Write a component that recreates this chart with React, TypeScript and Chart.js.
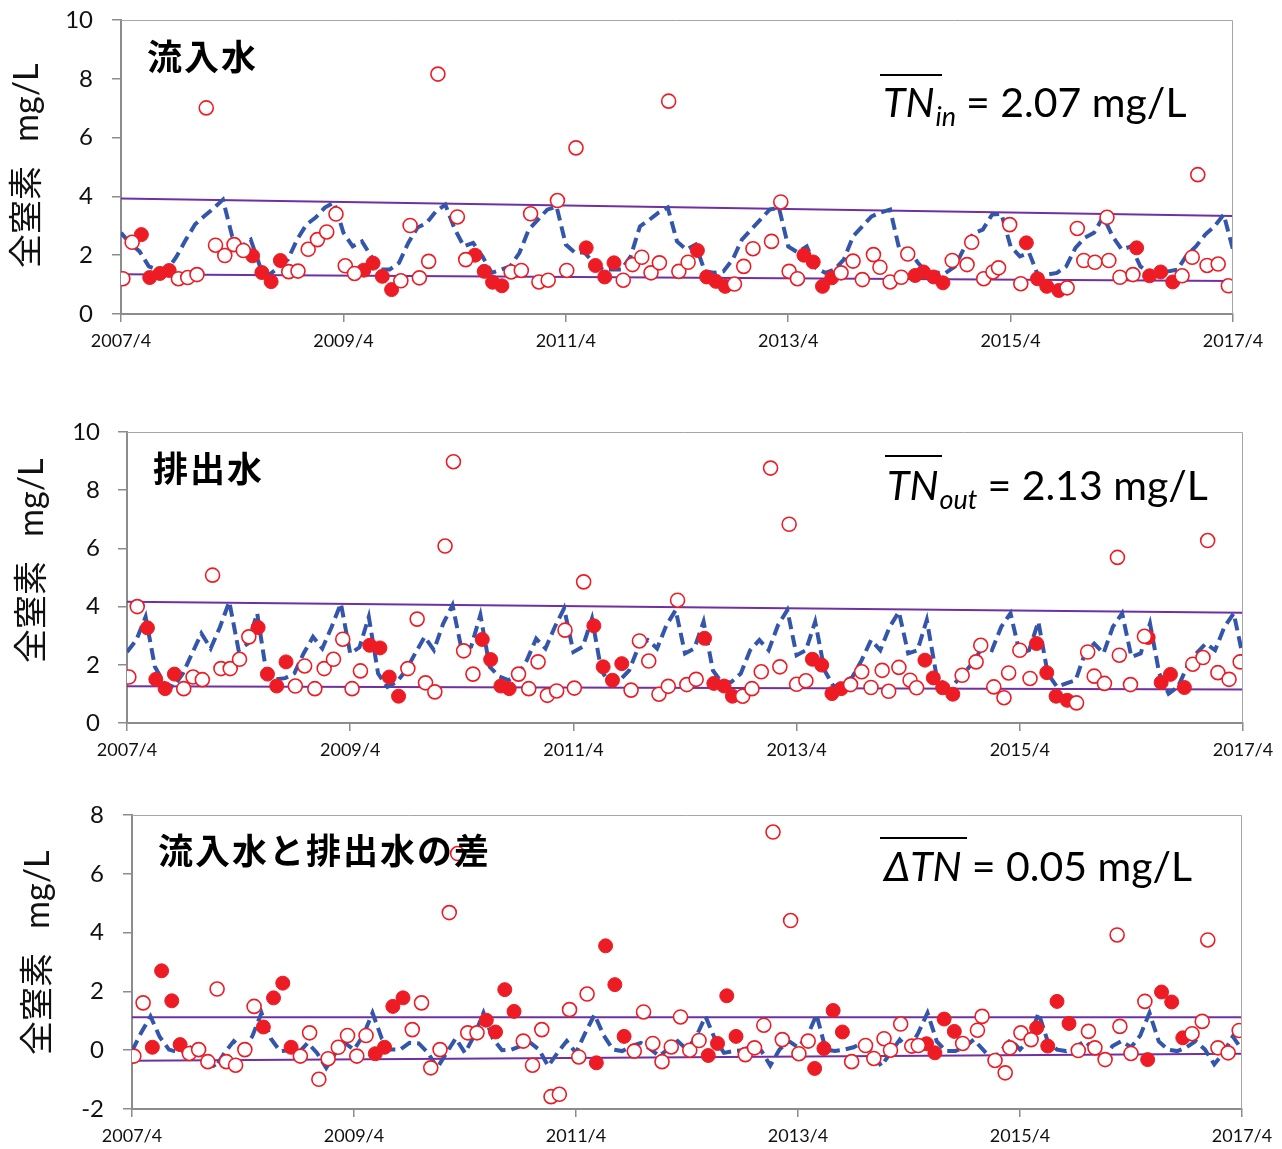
import React, { useEffect, useRef } from 'react';
import { Chart, registerables } from 'chart.js';

Chart.register(...registerables);

const FONT = 'Lato, "Noto Sans CJK JP", "DejaVu Sans", sans-serif';
const CJK = '"Noto Sans CJK JP", sans-serif';
const RED = '#ED1C24';
const BLUE = '#3355AA';
const PURPLE = '#7030A0';
const AXIS = '#8C8C8C';
const FRAME = '#A6A6A6';

// x axis: months since 2007/4
const xTickLabels = ['2007/4', '2009/4', '2011/4', '2013/4', '2015/4', '2017/4'];
const yTitleParts = ['全窒素', 'mg/L'];

// ---------- panel 1: inflow ----------
const inflowOpen: [number, number][] = [
  [0.2, 1.2], [1.2, 2.44], [6.2, 1.2], [7.2, 1.24], [8.2, 1.34], [9.2, 7.01], [10.2, 2.34], [11.2, 1.99],
  [12.2, 2.36], [13.2, 2.16], [18.1, 1.44], [19.1, 1.46], [20.2, 2.2], [21.2, 2.53], [22.2, 2.79], [23.2, 3.4],
  [24.2, 1.64], [25.2, 1.38], [30.2, 1.13], [31.2, 3.01], [32.2, 1.23], [33.2, 1.79], [34.2, 8.16], [36.3, 3.3],
  [37.2, 1.85], [42.1, 1.43], [43.2, 1.48], [44.2, 3.41], [45.1, 1.09], [46.1, 1.15], [47.1, 3.86], [48.1, 1.48],
  [49.1, 5.65], [54.2, 1.15], [55.2, 1.68], [56.2, 1.93], [57.2, 1.4], [58.1, 1.74], [59.1, 7.24], [60.2, 1.45],
  [61.2, 1.76], [66.2, 1.02], [67.2, 1.62], [68.2, 2.22], [70.2, 2.47], [71.2, 3.81], [72.1, 1.45], [73.0, 1.2],
  [77.7, 1.4], [79.0, 1.8], [80.0, 1.17], [81.2, 2.02], [81.9, 1.59], [83.0, 1.09], [84.2, 1.25], [84.9, 2.04],
  [89.7, 1.82], [91.3, 1.68], [91.8, 2.44], [93.1, 1.2], [94.1, 1.43], [94.7, 1.57], [95.9, 3.04], [97.1, 1.03],
  [102.1, 0.89], [103.2, 2.91], [103.9, 1.82], [105.1, 1.76], [106.4, 3.29], [106.6, 1.82], [107.8, 1.25],
  [109.2, 1.34], [114.5, 1.3], [115.6, 1.93], [116.2, 4.74], [117.2, 1.65], [118.4, 1.7], [119.5, 0.96],
];
const inflowFilled: [number, number][] = [
  [2.2, 2.7], [3.1, 1.24], [4.2, 1.38], [5.2, 1.48], [14.2, 1.98], [15.2, 1.41], [16.2, 1.1], [17.2, 1.82],
  [26.2, 1.49], [27.2, 1.73], [28.2, 1.28], [29.2, 0.83], [38.2, 2.0], [39.2, 1.45], [40.1, 1.08], [41.1, 0.96],
  [50.2, 2.25], [51.2, 1.65], [52.2, 1.26], [53.2, 1.74], [62.2, 2.16], [63.2, 1.26], [64.2, 1.11], [65.2, 0.94],
  [73.7, 2.0], [74.7, 1.77], [75.7, 0.94], [76.7, 1.23], [85.7, 1.31], [86.6, 1.43], [87.7, 1.26], [88.7, 1.06],
  [97.7, 2.42], [98.9, 1.2], [99.9, 0.94], [101.2, 0.8], [109.6, 2.25], [111.0, 1.3], [112.2, 1.43], [113.5, 1.09],
];
const inflowModel: number[] = [
  2.76, 2.4, 2.13, 1.62, 1.5, 1.5, 1.96, 2.53, 3.05, 3.33, 3.6, 3.89,
  2.64, 2.3, 2.53, 1.62, 1.34, 1.58, 1.85, 2.53, 3.04, 3.28, 3.62, 3.79,
  2.77, 2.3, 2.47, 1.96, 1.51, 1.51, 1.74, 2.42, 2.94, 3.1, 3.5, 3.72,
  2.9, 2.3, 2.42, 1.96, 1.4, 1.51, 1.62, 2.08, 2.87, 3.21, 3.55, 3.66,
  2.36, 2.08, 2.1, 1.74, 1.51, 1.51, 1.51, 1.96, 2.98, 3.2, 3.45, 3.62,
  2.47, 2.19, 2.36, 1.45, 1.4, 1.45, 1.85, 2.53, 2.87, 3.21, 3.55, 3.62,
  2.3, 2.1, 2.3, 1.57, 1.4, 1.51, 1.85, 2.64, 2.98, 3.32, 3.45, 3.55,
  2.19, 2.19, 1.74, 1.4, 1.4, 1.4, 1.62, 2.25, 2.75, 2.87, 3.38, 3.41,
  2.3, 1.96, 2.08, 1.28, 1.34, 1.4, 1.62, 2.25, 2.59, 2.76, 3.32, 2.64,
  2.19, 2.3, 1.62, 1.4, 1.4, 1.45, 1.51, 2.0, 2.3, 2.7, 2.98, 3.38, 2.19,
];
const inflowUpper = [3.93, 3.33];
const inflowLower = [1.35, 1.12];

// ---------- panel 2: outflow ----------
const outflowOpen: [number, number][] = [
  [0.2, 1.58], [1.1, 4.0], [6.1, 1.18], [7.1, 1.58], [8.1, 1.49], [9.2, 5.08], [10.1, 1.87], [11.1, 1.87],
  [12.1, 2.19], [13.1, 2.96], [18.1, 1.27], [19.1, 1.96], [20.2, 1.18], [21.2, 1.87], [22.2, 2.19], [23.2, 2.88],
  [24.2, 1.18], [25.1, 1.79], [30.2, 1.87], [31.2, 3.57], [32.1, 1.38], [33.1, 1.07], [34.2, 6.08], [35.1, 8.98],
  [36.2, 2.48], [37.2, 1.68], [42.1, 1.68], [43.2, 1.18], [44.2, 2.1], [45.2, 0.95], [46.2, 1.1], [47.1, 3.19],
  [48.1, 1.2], [49.1, 4.85], [54.2, 1.13], [55.1, 2.82], [56.1, 2.13], [57.2, 0.99], [58.2, 1.26], [59.2, 4.22],
  [60.2, 1.32], [61.2, 1.5], [66.2, 0.92], [67.2, 1.18], [68.2, 1.76], [69.2, 8.76], [70.2, 1.93], [71.2, 6.83],
  [72.0, 1.33], [73.0, 1.45], [77.8, 1.32], [79.0, 1.76], [80.0, 1.22], [81.2, 1.81], [81.9, 1.09], [83.0, 1.91],
  [84.2, 1.47], [84.9, 1.21], [89.8, 1.64], [91.3, 2.1], [91.8, 2.67], [93.2, 1.24], [94.3, 0.87], [94.8, 1.72],
  [96.0, 2.5], [97.1, 1.53], [102.1, 0.69], [103.3, 2.44], [104.0, 1.61], [105.1, 1.36], [106.5, 5.69],
  [106.7, 2.33], [107.9, 1.32], [109.4, 2.98], [114.6, 2.02], [115.7, 2.25], [116.2, 6.27], [117.3, 1.73],
  [118.5, 1.5], [119.7, 2.1],
];
const outflowFilled: [number, number][] = [
  [2.2, 3.27], [3.1, 1.5], [4.1, 1.18], [5.1, 1.68], [14.1, 3.28], [15.1, 1.68], [16.1, 1.27], [17.1, 2.1],
  [26.1, 2.67], [27.2, 2.58], [28.2, 1.58], [29.2, 0.92], [38.2, 2.87], [39.1, 2.18], [40.2, 1.27], [41.1, 1.18],
  [50.2, 3.34], [51.2, 1.93], [52.2, 1.47], [53.2, 2.04], [62.1, 2.91], [63.1, 1.36], [64.2, 1.27], [65.1, 0.92],
  [73.7, 2.19], [74.7, 1.99], [75.8, 1.01], [76.8, 1.18], [85.8, 2.16], [86.7, 1.55], [87.7, 1.21], [88.8, 0.99],
  [97.8, 2.73], [98.9, 1.73], [99.9, 0.92], [101.1, 0.78], [109.8, 2.94], [111.2, 1.39], [112.2, 1.67], [113.7, 1.22],
];
const outflowModel: number[] = [
  2.44, 2.85, 3.65, 1.93, 1.36, 1.24, 1.7, 2.39, 3.08, 2.56, 3.3, 4.17,
  2.5, 2.73, 3.77, 1.7, 1.5, 1.54, 1.71, 2.4, 2.96, 2.56, 3.3, 4.11,
  2.39, 2.6, 3.65, 1.7, 1.24, 1.41, 1.81, 2.4, 2.96, 2.5, 3.42, 4.05,
  2.5, 2.62, 3.71, 1.93, 1.6, 1.47, 1.64, 2.16, 2.9, 2.56, 3.3, 3.94,
  2.44, 2.62, 3.59, 1.81, 1.3, 1.47, 1.81, 2.62, 2.85, 2.56, 3.36, 3.88,
  2.39, 2.56, 3.48, 1.81, 1.36, 1.41, 1.7, 2.5, 2.85, 2.5, 3.36, 3.88,
  2.33, 2.5, 3.48, 1.81, 1.24, 1.41, 1.58, 2.16, 2.85, 2.5, 3.3, 3.82,
  2.39, 2.5, 3.54, 1.7, 1.24, 1.36, 1.7, 2.1, 2.62, 2.5, 3.3, 3.77,
  2.39, 2.5, 3.48, 1.7, 1.24, 1.36, 1.47, 2.39, 2.73, 2.39, 3.3, 3.77,
  2.27, 2.39, 3.42, 1.7, 1.01, 1.24, 1.93, 2.4, 2.73, 2.5, 3.3, 3.77, 2.27,
];
const outflowUpper = [4.17, 3.79];
const outflowLower = [1.26, 1.15];

// ---------- panel 3: difference ----------
const diffOpen: [number, number][] = [
  [0.2, -0.2], [1.2, 1.61], [6.2, -0.11], [7.2, 0.02], [8.2, -0.39], [9.2, 2.08], [10.2, -0.39], [11.2, -0.51],
  [12.2, 0.02], [13.2, 1.49], [18.2, -0.2], [19.2, 0.59], [20.2, -0.99], [21.2, -0.29], [22.3, 0.1], [23.3, 0.5],
  [24.3, -0.2], [25.3, 0.5], [30.3, 0.7], [31.3, 1.61], [32.3, -0.6], [33.3, 0.02], [34.3, 4.68], [35.2, 6.69],
  [36.3, 0.59], [37.3, 0.59], [42.3, 0.31], [43.3, -0.51], [44.3, 0.7], [45.3, -1.58], [46.2, -1.5], [47.3, 1.38],
  [48.3, -0.23], [49.2, 1.91], [54.3, -0.03], [55.3, 1.3], [56.3, 0.23], [57.3, -0.39], [58.3, 0.11], [59.3, 1.13],
  [60.3, 0.0], [61.3, 0.33], [66.3, -0.15], [67.3, 0.08], [68.3, 0.85], [69.3, 7.42], [70.3, 0.36], [71.2, 4.41],
  [72.1, -0.12], [73.1, 0.31], [77.8, -0.39], [79.3, 0.16], [80.2, -0.28], [81.3, 0.39], [82.0, 0.0], [83.1, 0.89],
  [84.3, 0.14], [85.0, 0.16], [89.8, 0.23], [91.4, 0.68], [91.9, 1.15], [93.3, -0.35], [94.4, -0.77], [94.9, 0.08],
  [96.1, 0.59], [97.2, 0.36], [102.3, -0.01], [103.4, 0.64], [104.1, 0.08], [105.2, -0.32], [106.5, 3.92],
  [106.8, 0.81], [108.0, -0.11], [109.5, 1.66], [114.6, 0.56], [115.7, 0.98], [116.3, 3.75], [117.4, 0.08],
  [118.5, -0.09], [119.7, 0.67],
];
const diffFilled: [number, number][] = [
  [2.2, 0.1], [3.2, 2.7], [4.3, 1.68], [5.2, 0.19], [14.2, 0.79], [15.3, 1.78], [16.3, 2.28], [17.2, 0.1],
  [26.3, -0.12], [27.3, 0.1], [28.2, 1.49], [29.3, 1.78], [38.3, 1.02], [39.3, 0.62], [40.3, 2.06], [41.3, 1.32],
  [50.2, -0.43], [51.2, 3.55], [52.2, 2.23], [53.2, 0.47], [62.3, -0.18], [63.3, 0.23], [64.3, 1.85], [65.3, 0.47],
  [73.8, -0.62], [74.8, 0.06], [75.8, 1.35], [76.8, 0.62], [85.9, 0.22], [86.8, -0.09], [87.8, 1.06], [88.9, 0.64],
  [97.8, 0.76], [99.0, 0.14], [100.0, 1.66], [101.3, 0.91], [109.8, -0.32], [111.3, 1.98], [112.4, 1.64], [113.6, 0.42],
];
const diffModel: number[] = [
  -0.03, 0.6, 1.15, 0.45, 0.02, -0.07, 0.02, 0.23, -0.09, -0.6, -0.09, 0.31,
  0.02, 0.47, 1.27, 0.4, -0.03, 0.0, -0.09, 0.25, -0.09, -0.6, -0.09, 0.25,
  0.02, 0.5, 1.27, 0.4, 0.02, 0.02, 0.25, 0.23, -0.09, -0.6, -0.09, 0.4,
  -0.09, 0.5, 1.27, 0.4, 0.0, 0.02, 0.14, 0.27, 0.02, -0.54, -0.09, 0.31,
  -0.09, 0.59, 1.21, 0.5, 0.02, -0.03, 0.14, 0.25, 0.05, -0.2, 0.05, 0.31,
  0.02, 0.47, 1.15, 0.4, -0.09, -0.03, 0.0, 0.14, 0.0, -0.52, 0.02, 0.31,
  0.1, 0.47, 1.21, 0.02, -0.03, 0.02, 0.1, 0.25, -0.03, -0.54, -0.09, 0.36,
  0.02, 0.59, 1.27, 0.3, -0.03, -0.03, 0.1, 0.36, 0.02, -0.32, 0.0, 0.36,
  0.02, 0.36, 1.27, 0.3, 0.02, -0.03, 0.1, 0.31, 0.02, -0.3, 0.14, 0.31,
  0.1, 0.5, 1.27, 0.3, 0.02, -0.03, 0.1, 0.31, 0.02, -0.48, -0.09, 0.47, 0.02,
];
const diffUpper = [1.12, 1.12];
const diffLower = [-0.36, -0.12];

// ---------- annotation plugin (frame, axis title, panel label, mean formula) ----------
const panelTextPlugin = {
  id: 'panelText',
  afterDatasetsDraw(chart: any, _args: any, o: any) {
    if (!o || !o.label) return;
    const ctx = chart.ctx as CanvasRenderingContext2D;
    const a = chart.chartArea;
    ctx.save();
    // plot frame (top and right)
    ctx.strokeStyle = FRAME;
    ctx.lineWidth = 1;
    ctx.beginPath();
    ctx.moveTo(a.left, a.top + 0.5);
    ctx.lineTo(a.right - 0.5, a.top + 0.5);
    ctx.lineTo(a.right - 0.5, a.bottom);
    ctx.stroke();

    // y-axis title
    ctx.save();
    ctx.translate(o.titleX, o.titleY);
    ctx.rotate(-Math.PI / 2);
    ctx.textAlign = 'left';
    ctx.textBaseline = 'middle';
    ctx.fillStyle = '#111';
    ctx.font = `34px ${FONT}`;
    ctx.fillText(o.title1, 0, 0);
    const tw = ctx.measureText(o.title1).width;
    ctx.fillText(o.title2, tw + o.titleGap, 0);
    ctx.restore();

    // panel label
    ctx.fillStyle = '#000';
    ctx.textAlign = 'left';
    ctx.textBaseline = 'middle';
    ctx.font = `bold ${o.labelSize}px ${CJK}`;
    (ctx as any).letterSpacing = `${o.labelSpacing}px`;
    ctx.fillText(o.label, o.labelX, o.labelY);
    (ctx as any).letterSpacing = '0px';

    // mean formula
    ctx.textBaseline = 'alphabetic';
    ctx.font = `italic ${o.fSize}px ${FONT}`;
    ctx.fillText(o.main, o.fx, o.fy);
    let x = o.fx + ctx.measureText(o.main).width;
    if (o.sub) {
      ctx.font = `italic ${o.subSize}px ${FONT}`;
      ctx.fillText(o.sub, x + 1, o.fy + o.subDy);
      x += 1 + ctx.measureText(o.sub).width;
    }
    x += o.gap;
    ctx.font = `${o.fSize}px ${FONT}`;
    ctx.fillText(o.rest, x, o.fy);
    ctx.strokeStyle = '#000';
    ctx.lineWidth = 2;
    ctx.beginPath();
    ctx.moveTo(o.ox1, o.oy);
    ctx.lineTo(o.ox2, o.oy);
    ctx.stroke();
    ctx.restore();
  },
};

type PanelDef = {
  top: number; height: number;
  areaTop: number; areaBottom: number; areaLeft: number; areaRight: number;
  yMin: number; yMax: number; tickPad: number;
  open: [number, number][]; filled: [number, number][]; model: number[];
  upper: number[]; lower: number[];
  text: any;
};

const panels: PanelDef[] = [
  {
    top: -15, height: 385, areaTop: 20, areaBottom: 314, areaLeft: 121, areaRight: 1233,
    yMin: 0, yMax: 10, tickPad: 19,
    open: inflowOpen, filled: inflowFilled, model: inflowModel, upper: inflowUpper, lower: inflowLower,
    text: { label: '流入水', labelX: 147, labelY: 57, main: 'TN', sub: 'in', fx: 883, fy: 117, rest: '= 2.07 mg/L', ox1: 880, ox2: 942, oy: 75, titleX: 27, titleY: 268 },
  },
  {
    top: 392, height: 388, areaTop: 432, areaBottom: 723, areaLeft: 127, areaRight: 1243,
    yMin: 0, yMax: 10, tickPad: 18,
    open: outflowOpen, filled: outflowFilled, model: outflowModel, upper: outflowUpper, lower: outflowLower,
    text: { label: '排出水', labelX: 153, labelY: 469, main: 'TN', sub: 'out', fx: 887, fy: 500, rest: '= 2.13 mg/L', ox1: 885, ox2: 942, oy: 456, titleX: 32, titleY: 663 },
  },
  {
    top: 780, height: 369, areaTop: 815, areaBottom: 1109, areaLeft: 132, areaRight: 1242,
    yMin: -2, yMax: 8, tickPad: 19,
    open: diffOpen, filled: diffFilled, model: diffModel, upper: diffUpper, lower: diffLower,
    text: { label: '流入水と排出水の差', labelX: 158, labelY: 851, main: 'ΔTN', sub: '', fx: 884, fy: 881, rest: '= 0.05 mg/L', ox1: 880, ox2: 967, oy: 838, titleX: 38, titleY: 1055 },
  },
];

function buildConfig(p: PanelDef): any {
  const pts = (arr: [number, number][]) => arr.map(([x, y]) => ({ x, y }));
  const t = p.text;
  return {
    type: 'scatter',
    data: {
      datasets: [
        { data: pts(p.open), backgroundColor: '#FFFFFF', borderColor: RED, borderWidth: 1.6, pointRadius: 7, pointHoverRadius: 7, showLine: false, order: 0 },
        { data: pts(p.filled), backgroundColor: RED, borderColor: RED, borderWidth: 1, pointRadius: 7, pointHoverRadius: 7, showLine: false, order: 1 },
        { type: 'line', data: p.model.map((y, i) => ({ x: i, y })), borderColor: BLUE, borderWidth: 4, borderDash: [12, 6], pointRadius: 0, fill: false, tension: 0, order: 2 },
        { type: 'line', data: [{ x: 0, y: p.upper[0] }, { x: 120, y: p.upper[1] }], borderColor: PURPLE, borderWidth: 2, pointRadius: 0, fill: false, order: 3 },
        { type: 'line', data: [{ x: 0, y: p.lower[0] }, { x: 120, y: p.lower[1] }], borderColor: PURPLE, borderWidth: 2, pointRadius: 0, fill: false, order: 3 },
      ],
    },
    plugins: [panelTextPlugin],
    options: {
      responsive: false,
      animation: false,
      devicePixelRatio: 1,
      events: [],
      layout: { padding: { top: p.areaTop - p.top, right: 1282 - p.areaRight, left: 0, bottom: 0 } },
      plugins: {
        legend: { display: false },
        tooltip: { enabled: false },
        panelText: {
          label: t.label, labelX: t.labelX, labelY: t.labelY - p.top, labelSize: 35, labelSpacing: 2,
          main: t.main, sub: t.sub, fSize: 41, subSize: 27, subDy: 9, gap: 10,
          fx: t.fx, fy: t.fy - p.top, rest: t.rest,
          ox1: t.ox1, ox2: t.ox2, oy: t.oy - p.top,
          title1: yTitleParts[0], title2: yTitleParts[1], titleGap: 24,
          titleX: t.titleX, titleY: t.titleY - p.top,
        },
      },
      scales: {
        x: {
          type: 'linear', min: 0, max: 120,
          afterFit: (s: any) => { s.height = p.top + p.height - p.areaBottom; },
          ticks: {
            stepSize: 24, autoSkip: false, maxRotation: 0, padding: 8, color: '#111',
            font: { family: FONT, size: 18 },
            callback: (v: number) => xTickLabels[Math.round(v / 24)] ?? '',
          },
          grid: { drawOnChartArea: false, drawTicks: true, tickLength: 8, color: AXIS, lineWidth: 1.5 },
          border: { color: AXIS, width: 2 },
        },
        y: {
          type: 'linear', min: p.yMin, max: p.yMax,
          afterFit: (s: any) => { s.width = p.areaLeft; },
          ticks: { stepSize: 2, padding: p.tickPad, color: '#111', font: { family: FONT, size: 24 } },
          grid: { drawOnChartArea: false, drawTicks: true, tickLength: 9, color: AXIS, lineWidth: 1.5 },
          border: { color: AXIS, width: 2 },
          title: { display: false },
        },
      },
    },
  };
}

function Panel({ p }: { p: PanelDef }) {
  const ref = useRef<HTMLCanvasElement>(null);
  useEffect(() => {
    if (!ref.current) return;
    const chart = new Chart(ref.current, buildConfig(p));
    return () => chart.destroy();
  }, [p]);
  return (
    <canvas
      ref={ref}
      width={1282}
      height={p.height}
      style={{ position: 'absolute', left: 0, top: p.top, width: 1282, height: p.height }}
    />
  );
}

export default function App() {
  return (
    <div style={{ position: 'absolute', left: 0, top: 0, width: 1282, height: 1149, background: '#fff', overflow: 'hidden' }}>
      {panels.map((p, i) => (
        <Panel key={i} p={p} />
      ))}
    </div>
  );
}
